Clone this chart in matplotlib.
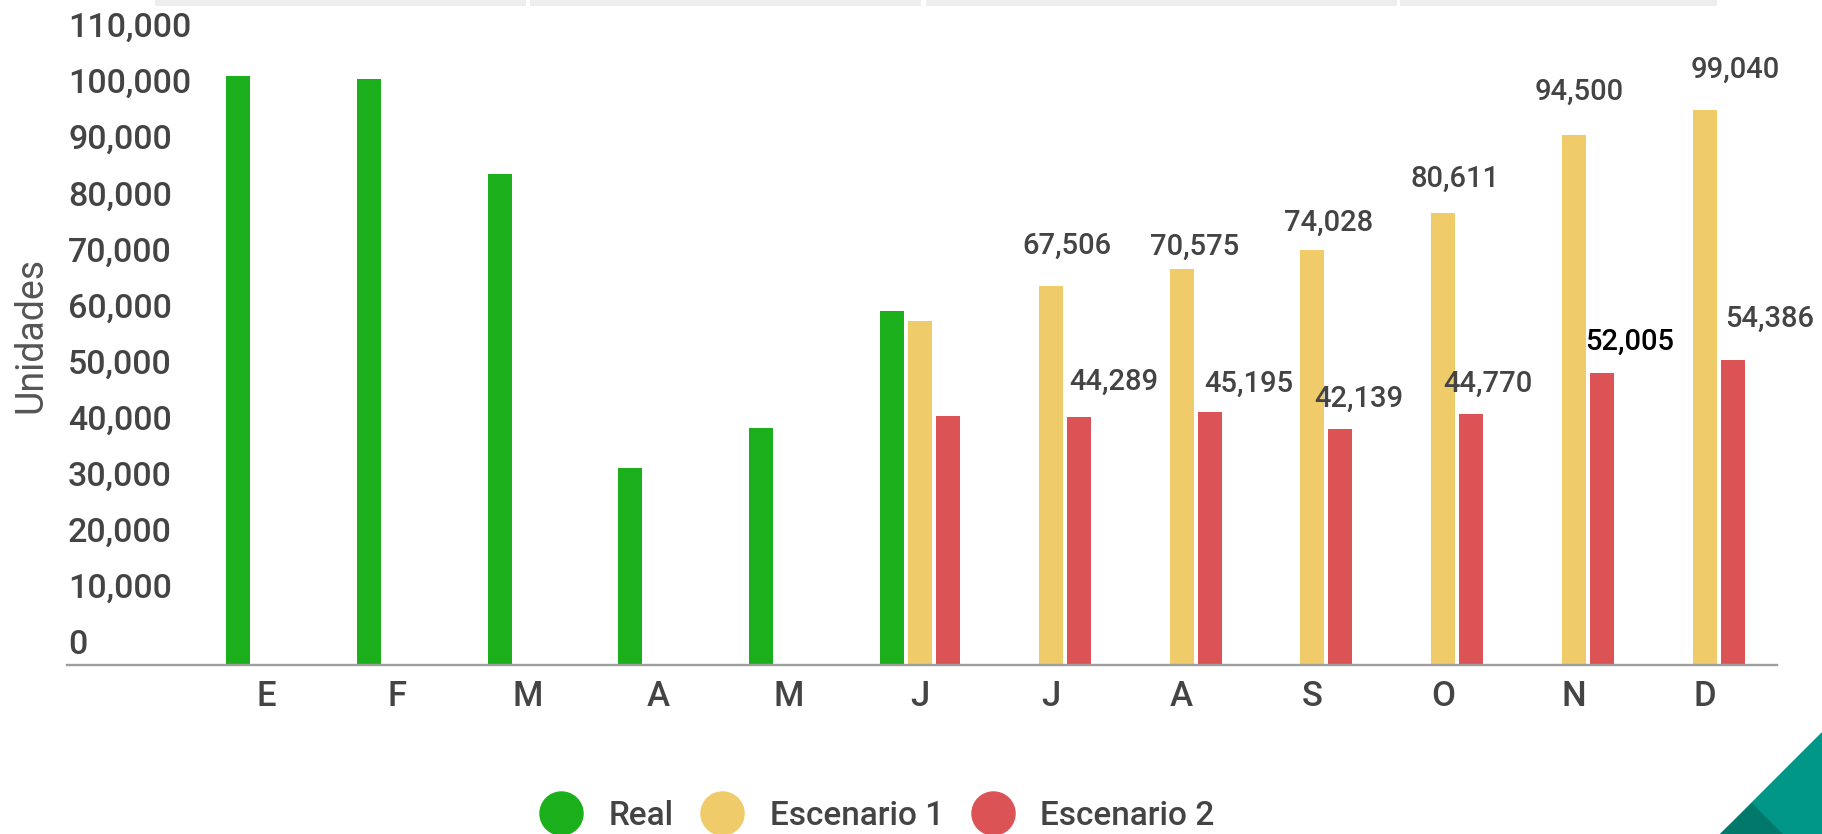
import matplotlib.pyplot as plt
import matplotlib.transforms as mtransforms
from matplotlib.lines import Line2D
from matplotlib.patches import Polygon, Rectangle
import numpy as np

plt.rcParams['font.family'] = ['Roboto', 'DejaVu Sans']
plt.rcParams['font.weight'] = 'medium'

# datos mensuales (unidades)
meses = ['E', 'F', 'M', 'A', 'M', 'J', 'J', 'A', 'S', 'O', 'N', 'D']
real = [105000, 104400, 87600, 35100, 42200, 63100,
        np.nan, np.nan, np.nan, np.nan, np.nan, np.nan]
escenario1 = [np.nan, np.nan, np.nan, np.nan, np.nan, 61350,
              67506, 70575, 74028, 80611, 94500, 99040]
escenario2 = [np.nan, np.nan, np.nan, np.nan, np.nan, 44400,
              44289, 45195, 42139, 44770, 52005, 54386]
series = ['Real', 'Escenario 1', 'Escenario 2']
yticks = list(range(0, 110001, 10000))

# etiquetas de valor desde julio; desplazamiento (px) respecto a la barra
primer_etiqueta = 6
desp_esc1 = [(16, 33), (13, 14), (16, 19), (12, 26), (5, 35), (30, 32)]
desp_esc2 = [(35, 27), (39, 20), (18, 22), (17, 22), (28, 23), (37, 33)]

colores = ['#1bb01b', '#efcb6a', '#dc5356']
gris_texto = '#444444'

W, H = 1822, 834
fig = plt.figure(figsize=(W / 100, H / 100), dpi=100)


def px(x, y):
    # pixel (desde arriba a la izquierda) -> fraccion de figura
    return x / W, 1 - y / H


ax = fig.add_axes([67 / W, (H - 665) / H, 1710 / W, 645 / H])

x = np.arange(len(meses))
ancho = 0.1835
desp = 0.214
for k, (vals, col) in enumerate(zip([real, escenario1, escenario2], colores)):
    ax.bar(x + (k - 1) * desp, vals, width=ancho, color=col, zorder=2)

ax.set_xlim(-1.521, 11.552)
ax.set_ylim(0, 115000)

for s in ['top', 'right', 'left']:
    ax.spines[s].set_visible(False)
ax.spines['bottom'].set_color('#9e9e9e')
ax.spines['bottom'].set_linewidth(1.7)
ax.spines['bottom'].set_zorder(3)

ax.set_xticks(x)
ax.set_xticklabels(meses, fontsize=25, color=gris_texto)
ax.tick_params(axis='x', length=0, pad=11)
ax.set_yticks([])

# etiquetas del eje y alineadas a la izquierda, por encima de cada valor
trans_y = mtransforms.offset_copy(ax.get_yaxis_transform(), fig=fig,
                                  x=1, y=11, units='dots')
for v in yticks:
    ax.text(0, v, f'{v:,}', transform=trans_y, ha='left', va='baseline',
            fontsize=24.5, color=gris_texto)

fig.text(31 / W, 1 - 335 / H, 'Unidades', rotation=90, ha='center',
         va='center', fontsize=27, color='#555555', fontweight='normal')

# valores de los escenarios
for vals, k, despl in [(escenario1, 0, desp_esc1), (escenario2, 1, desp_esc2)]:
    for i, (dx, dy) in zip(range(primer_etiqueta, len(meses)), despl):
        v = vals[i]
        color = 'black' if v == 52005 else gris_texto
        ax.annotate(f'{v:,}', xy=(x[i] + k * desp, v), xytext=(dx, dy),
                    textcoords='offset pixels', ha='center', va='baseline',
                    fontsize=21, color=color, annotation_clip=False)

# leyenda
handles = [Line2D([], [], linestyle='none', marker='o', markersize=31,
                  markerfacecolor=c, markeredgecolor=c) for c in colores]
fig.legend(handles, series, loc='center', bbox_to_anchor=px(877, 816),
           ncol=3, frameon=False, fontsize=24, labelcolor=gris_texto,
           handlelength=1.3, handletextpad=0.78, columnspacing=0.81)

# franja gris superior
for x0, x1 in [(155, 526), (530, 921), (926, 1397), (1400, 1717)]:
    fig.patches.append(Rectangle(px(x0, 6), (x1 - x0) / W, 6 / H,
                                 transform=fig.transFigure,
                                 facecolor='#eeeeee', edgecolor='none'))

# esquina decorativa
fig.patches.append(Polygon([px(1822, 732), px(1822, 834), px(1720, 834)],
                           closed=True, transform=fig.transFigure,
                           facecolor='#009688', edgecolor='none'))
fig.patches.append(Polygon([px(1720, 834), px(1752, 803), px(1783, 834)],
                           closed=True, transform=fig.transFigure,
                           facecolor='#00796b', edgecolor='none'))

fig.savefig('out.png', dpi=100)
